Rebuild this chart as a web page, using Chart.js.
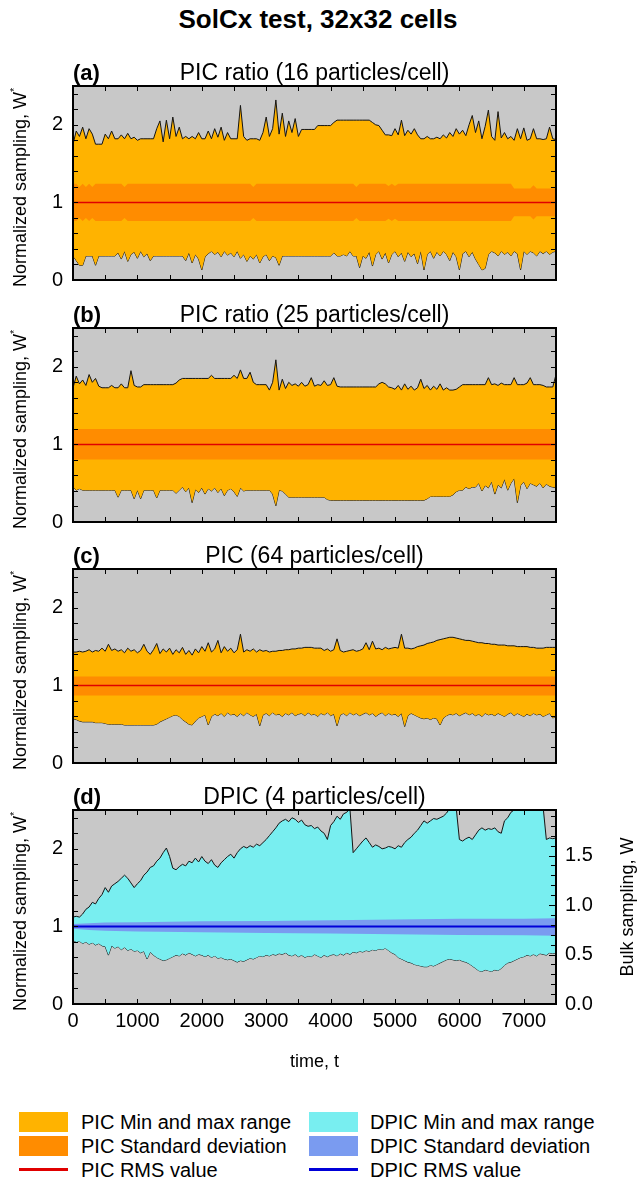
<!DOCTYPE html>
<html>
<head>
<meta charset="utf-8">
<script src="https://cdn.jsdelivr.net/npm/chart.js@4.4.1/dist/chart.umd.min.js"></script>
<style>
  body { margin: 0; background: #fff; }
  #wrap { position: relative; width: 638px; height: 1180px; overflow: hidden; font-family: "Liberation Sans", Arial, Helvetica, sans-serif; color: #000; }
  #wrap canvas { position: absolute; left: 0; }
  .main-title { position: absolute; left: 0; width: 636px; top: 6px; text-align: center; font-weight: bold; font-size: 26px; line-height: 26px; }
  .key-box { position: absolute; width: 49px; height: 20px; }
  .key-line { position: absolute; width: 49px; height: 3px; }
  .key-text { position: absolute; font-size: 20px; line-height: 20px; white-space: nowrap; }
</style>
</head>
<body>
<div id="wrap">
  <div class="main-title">SolCx test, 32x32 cells</div>
  <canvas id="panelA" width="638" height="264" style="top:46px"></canvas>
  <canvas id="panelB" width="638" height="264" style="top:288px"></canvas>
  <canvas id="panelC" width="638" height="264" style="top:529px"></canvas>
  <canvas id="panelD" width="638" height="306" style="top:770px"></canvas>

  <div class="key-box" style="left:19px;top:1112px;background:#ffb300"></div>
  <div class="key-text" style="left:81px;top:1112px">PIC Min and max range</div>
  <div class="key-box" style="left:19px;top:1136px;background:#ff8c00"></div>
  <div class="key-text" style="left:81px;top:1136px">PIC Standard deviation</div>
  <div class="key-line" style="left:19px;top:1168px;background:#e00000"></div>
  <div class="key-text" style="left:81px;top:1160px">PIC RMS value</div>

  <div class="key-box" style="left:309px;top:1112px;background:#78eef0"></div>
  <div class="key-text" style="left:370px;top:1112px">DPIC Min and max range</div>
  <div class="key-box" style="left:309px;top:1136px;background:#7a9bf0"></div>
  <div class="key-text" style="left:370px;top:1136px">DPIC Standard deviation</div>
  <div class="key-line" style="left:309px;top:1168px;background:#0000d8"></div>
  <div class="key-text" style="left:370px;top:1160px">DPIC RMS value</div>
</div>

<script>
// sample grid of the noisy min / max curves (every 50 time units, 0..7500)
const times = Array.from({ length: 151 }, (_, i) => i * 50)

const panelTags = ["(a)", "(b)", "(c)", "(d)"]
const panelTitles = [
  "PIC ratio (16 particles/cell)",
  "PIC ratio (25 particles/cell)",
  "PIC (64 particles/cell)",
  "DPIC (4 particles/cell)"
]
const xTickValues = [0, 1000, 2000, 3000, 4000, 5000, 6000, 7000]
const leftTickValues = [0, 1, 2]
const rightTickValues = [0.0, 0.5, 1.0, 1.5]

// (a) PIC 16 particles/cell
const maxA = [
  1.75, 1.92, 1.85, 1.97, 1.82, 1.95, 1.88, 1.75, 1.75, 1.75,
  1.88, 1.82, 1.92, 1.82, 1.82, 1.87, 1.82, 1.89, 1.82, 1.84,
  1.80, 1.82, 1.82, 1.82, 1.82, 1.82, 1.95, 2.05, 1.78, 2.06,
  1.82, 2.10, 1.85, 1.97, 1.82, 1.85, 1.82, 1.85, 1.82, 1.90,
  1.82, 1.82, 1.92, 1.82, 1.95, 1.84, 1.97, 1.80, 1.90, 1.82,
  1.82, 1.82, 2.25, 1.85, 1.80, 1.82, 1.82, 1.82, 1.80, 1.90,
  2.10, 1.85, 1.95, 2.32, 1.88, 2.15, 1.85, 2.05, 1.90, 2.08,
  1.85, 1.94, 1.94, 1.94, 1.94, 1.94, 1.99, 1.99, 1.99, 1.99,
  1.99, 2.03, 2.06, 2.06, 2.06, 2.06, 2.06, 2.06, 2.06, 2.06,
  2.06, 2.06, 2.06, 2.03, 2.00, 1.99, 1.93, 1.87, 1.87, 1.86,
  1.95, 1.87, 2.06, 1.86, 1.93, 1.88, 1.95, 1.87, 1.82, 1.82,
  1.85, 1.82, 1.82, 1.84, 1.82, 1.87, 1.83, 1.90, 1.85, 1.95,
  1.88, 1.93, 1.86, 2.00, 2.12, 1.90, 2.05, 1.82, 1.98, 2.19,
  1.85, 1.80, 2.17, 1.83, 1.90, 1.82, 1.85, 1.80, 1.95, 1.82,
  1.96, 1.80, 1.82, 1.95, 1.82, 1.82, 1.81, 1.82, 1.97, 1.82,
  1.81
]
const minA = [
  0.31, 0.25, 0.19, 0.19, 0.31, 0.31, 0.31, 0.19, 0.31, 0.31,
  0.31, 0.31, 0.31, 0.31, 0.35, 0.27, 0.37, 0.24, 0.33, 0.36,
  0.28, 0.37, 0.30, 0.34, 0.25, 0.31, 0.31, 0.31, 0.31, 0.31,
  0.31, 0.31, 0.31, 0.31, 0.31, 0.25, 0.35, 0.22, 0.33, 0.27,
  0.13, 0.30, 0.34, 0.37, 0.33, 0.36, 0.30, 0.37, 0.32, 0.35,
  0.30, 0.37, 0.28, 0.33, 0.24, 0.31, 0.27, 0.33, 0.22, 0.30,
  0.33, 0.25, 0.31, 0.29, 0.19, 0.31, 0.31, 0.31, 0.31, 0.31,
  0.31, 0.31, 0.31, 0.31, 0.31, 0.31, 0.31, 0.31, 0.31, 0.31,
  0.31, 0.35, 0.31, 0.31, 0.33, 0.31, 0.37, 0.31, 0.31, 0.16,
  0.31, 0.28, 0.36, 0.18, 0.33, 0.37, 0.27, 0.35, 0.22, 0.33,
  0.37, 0.30, 0.35, 0.24, 0.36, 0.30, 0.34, 0.21, 0.37, 0.13,
  0.33, 0.37, 0.28, 0.36, 0.31, 0.37, 0.33, 0.25, 0.36, 0.30,
  0.13, 0.34, 0.37, 0.30, 0.36, 0.27, 0.20, 0.13, 0.15, 0.33,
  0.37, 0.35, 0.31, 0.37, 0.33, 0.36, 0.31, 0.37, 0.34, 0.13,
  0.37, 0.33, 0.37, 0.35, 0.31, 0.37, 0.34, 0.37, 0.33, 0.36,
  0.37
]
const stdUpA = [
  1.24, 1.24, 1.20, 1.24, 1.20, 1.24, 1.20, 1.24, 1.24, 1.24,
  1.24, 1.24, 1.24, 1.24, 1.24, 1.24, 1.20, 1.24, 1.24, 1.24,
  1.24, 1.24, 1.24, 1.24, 1.24, 1.24, 1.24, 1.24, 1.24, 1.24,
  1.24, 1.24, 1.24, 1.24, 1.24, 1.24, 1.24, 1.24, 1.24, 1.24,
  1.24, 1.24, 1.24, 1.24, 1.24, 1.24, 1.24, 1.24, 1.24, 1.24,
  1.24, 1.24, 1.24, 1.24, 1.24, 1.24, 1.20, 1.24, 1.24, 1.24,
  1.24, 1.24, 1.24, 1.24, 1.24, 1.24, 1.24, 1.24, 1.24, 1.24,
  1.24, 1.24, 1.24, 1.24, 1.24, 1.24, 1.24, 1.24, 1.24, 1.24,
  1.24, 1.24, 1.24, 1.24, 1.24, 1.24, 1.24, 1.24, 1.20, 1.24,
  1.24, 1.24, 1.24, 1.24, 1.24, 1.24, 1.24, 1.24, 1.21, 1.24,
  1.21, 1.24, 1.24, 1.24, 1.24, 1.24, 1.24, 1.24, 1.24, 1.24,
  1.24, 1.24, 1.24, 1.24, 1.24, 1.24, 1.24, 1.24, 1.24, 1.24,
  1.24, 1.24, 1.24, 1.24, 1.24, 1.24, 1.24, 1.24, 1.24, 1.24,
  1.24, 1.24, 1.24, 1.24, 1.24, 1.24, 1.24, 1.18, 1.18, 1.18,
  1.18, 1.18, 1.18, 1.22, 1.18, 1.18, 1.18, 1.18, 1.18, 1.18,
  1.18
]
const stdLowA = [
  0.76, 0.76, 0.80, 0.76, 0.80, 0.76, 0.80, 0.76, 0.76, 0.76,
  0.76, 0.76, 0.76, 0.76, 0.76, 0.76, 0.80, 0.76, 0.76, 0.76,
  0.76, 0.76, 0.76, 0.76, 0.76, 0.76, 0.76, 0.76, 0.76, 0.76,
  0.76, 0.76, 0.76, 0.76, 0.76, 0.76, 0.76, 0.76, 0.76, 0.76,
  0.76, 0.76, 0.76, 0.76, 0.76, 0.76, 0.76, 0.76, 0.76, 0.76,
  0.76, 0.76, 0.76, 0.76, 0.76, 0.76, 0.80, 0.76, 0.76, 0.76,
  0.76, 0.76, 0.76, 0.76, 0.76, 0.76, 0.76, 0.76, 0.76, 0.76,
  0.76, 0.76, 0.76, 0.76, 0.76, 0.76, 0.76, 0.76, 0.76, 0.76,
  0.76, 0.76, 0.76, 0.76, 0.76, 0.76, 0.76, 0.76, 0.80, 0.76,
  0.76, 0.76, 0.76, 0.76, 0.76, 0.76, 0.76, 0.76, 0.79, 0.76,
  0.79, 0.76, 0.76, 0.76, 0.76, 0.76, 0.76, 0.76, 0.76, 0.76,
  0.76, 0.76, 0.76, 0.76, 0.76, 0.76, 0.76, 0.76, 0.76, 0.76,
  0.76, 0.76, 0.76, 0.76, 0.76, 0.76, 0.76, 0.76, 0.76, 0.76,
  0.76, 0.76, 0.76, 0.76, 0.76, 0.76, 0.76, 0.82, 0.82, 0.82,
  0.82, 0.82, 0.82, 0.78, 0.82, 0.82, 0.82, 0.82, 0.82, 0.82,
  0.82
]

// (b) PIC 25 particles/cell
const maxB = [
  1.73, 1.88, 1.78, 1.83, 1.76, 1.90, 1.80, 1.85, 1.75, 1.73,
  1.73, 1.73, 1.76, 1.73, 1.73, 1.78, 1.73, 1.73, 1.95, 1.76,
  1.74, 1.74, 1.77, 1.77, 1.77, 1.77, 1.77, 1.77, 1.77, 1.77,
  1.77, 1.77, 1.79, 1.83, 1.85, 1.85, 1.85, 1.85, 1.85, 1.85,
  1.85, 1.85, 1.85, 1.89, 1.85, 1.85, 1.85, 1.85, 1.85, 1.85,
  1.89, 1.85, 1.96, 1.85, 1.85, 1.93, 1.80, 1.77, 1.77, 1.77,
  1.77, 1.70, 1.80, 2.09, 1.70, 1.84, 1.72, 1.80, 1.76, 1.78,
  1.75, 1.80, 1.75, 1.77, 1.86, 1.75, 1.77, 1.76, 1.82, 1.76,
  1.77, 1.86, 1.75, 1.74, 1.74, 1.74, 1.74, 1.74, 1.74, 1.74,
  1.74, 1.74, 1.74, 1.74, 1.74, 1.78, 1.80, 1.78, 1.74, 1.73,
  1.71, 1.76, 1.70, 1.78, 1.71, 1.75, 1.70, 1.73, 1.84, 1.72,
  1.76, 1.70, 1.75, 1.71, 1.78, 1.70, 1.73, 1.70, 1.70, 1.71,
  1.74, 1.77, 1.77, 1.77, 1.77, 1.77, 1.77, 1.77, 1.77, 1.86,
  1.77, 1.78, 1.76, 1.79, 1.77, 1.77, 1.77, 1.86, 1.77, 1.77,
  1.77, 1.79, 1.86, 1.77, 1.77, 1.77, 1.76, 1.74, 1.74, 1.74,
  1.90
]
const minB = [
  0.45, 0.41, 0.43, 0.41, 0.41, 0.41, 0.41, 0.41, 0.41, 0.41,
  0.41, 0.41, 0.41, 0.41, 0.32, 0.41, 0.41, 0.41, 0.41, 0.30,
  0.41, 0.30, 0.41, 0.41, 0.41, 0.41, 0.31, 0.41, 0.41, 0.41,
  0.41, 0.41, 0.37, 0.41, 0.45, 0.39, 0.44, 0.25, 0.42, 0.38,
  0.44, 0.36, 0.43, 0.40, 0.44, 0.38, 0.43, 0.34, 0.41, 0.43,
  0.39, 0.33, 0.44, 0.40, 0.41, 0.41, 0.41, 0.41, 0.41, 0.41,
  0.41, 0.41, 0.36, 0.21, 0.41, 0.40, 0.36, 0.32, 0.32, 0.32,
  0.32, 0.32, 0.32, 0.32, 0.32, 0.32, 0.32, 0.32, 0.32, 0.29,
  0.28, 0.28, 0.28, 0.28, 0.28, 0.28, 0.28, 0.28, 0.28, 0.28,
  0.28, 0.28, 0.28, 0.28, 0.28, 0.28, 0.28, 0.28, 0.28, 0.28,
  0.28, 0.28, 0.28, 0.28, 0.28, 0.28, 0.28, 0.28, 0.28, 0.28,
  0.30, 0.33, 0.33, 0.33, 0.33, 0.33, 0.33, 0.33, 0.35, 0.39,
  0.41, 0.41, 0.45, 0.43, 0.45, 0.45, 0.50, 0.40, 0.47, 0.44,
  0.52, 0.36, 0.48, 0.44, 0.55, 0.41, 0.50, 0.56, 0.25, 0.47,
  0.52, 0.43, 0.50, 0.48, 0.46, 0.50, 0.44, 0.49, 0.46, 0.45,
  0.44
]
const stdTimesB = [0, 7500]
const stdUpB = [1.20, 1.20]
const stdLowB = [0.805, 0.805]

// (c) PIC 64 particles/cell
const maxC = [
  1.43, 1.43, 1.44, 1.43, 1.44, 1.46, 1.43, 1.45, 1.44, 1.48,
  1.44, 1.53, 1.45, 1.47, 1.44, 1.46, 1.42, 1.48, 1.44, 1.46,
  1.42, 1.45, 1.53, 1.44, 1.40, 1.46, 1.54, 1.41, 1.47, 1.43,
  1.48, 1.40, 1.46, 1.42, 1.49, 1.40, 1.45, 1.39, 1.47, 1.42,
  1.50, 1.44, 1.55, 1.43, 1.47, 1.58, 1.42, 1.50, 1.44, 1.48,
  1.42, 1.46, 1.66, 1.43, 1.46, 1.44, 1.47, 1.43, 1.46, 1.44,
  1.45, 1.43, 1.44, 1.44, 1.45, 1.45, 1.46, 1.46, 1.47, 1.47,
  1.48, 1.48, 1.49, 1.49, 1.49, 1.48, 1.48, 1.48, 1.45, 1.47,
  1.44, 1.46, 1.60, 1.45, 1.43, 1.44, 1.45, 1.46, 1.44, 1.45,
  1.47, 1.55, 1.46, 1.57, 1.47, 1.48, 1.46, 1.49, 1.47, 1.48,
  1.49, 1.48, 1.66, 1.48, 1.48, 1.47, 1.48, 1.50, 1.51, 1.52,
  1.54, 1.55, 1.56, 1.58, 1.59, 1.60, 1.61, 1.62, 1.62, 1.61,
  1.60, 1.59, 1.58, 1.58, 1.57, 1.56, 1.55, 1.55, 1.54, 1.54,
  1.53, 1.53, 1.52, 1.52, 1.52, 1.51, 1.51, 1.51, 1.50, 1.50,
  1.50, 1.50, 1.49, 1.49, 1.48, 1.48, 1.48, 1.49, 1.49, 1.49,
  1.49
]
const minC = [
  0.57, 0.56, 0.54, 0.53, 0.53, 0.53, 0.53, 0.52, 0.52, 0.52,
  0.51, 0.50, 0.50, 0.50, 0.50, 0.50, 0.49, 0.49, 0.49, 0.49,
  0.49, 0.49, 0.49, 0.49, 0.49, 0.49, 0.50, 0.53, 0.55, 0.57,
  0.59, 0.61, 0.62, 0.60, 0.56, 0.53, 0.50, 0.49, 0.54, 0.58,
  0.60, 0.62, 0.49, 0.60, 0.63, 0.61, 0.64, 0.60, 0.65, 0.62,
  0.63, 0.60, 0.64, 0.61, 0.65, 0.62, 0.60, 0.63, 0.48, 0.62,
  0.64, 0.61, 0.65, 0.62, 0.63, 0.60, 0.64, 0.62, 0.65, 0.61,
  0.63, 0.64, 0.61, 0.65, 0.62, 0.63, 0.60, 0.64, 0.62, 0.65,
  0.61, 0.63, 0.48, 0.62, 0.64, 0.61, 0.65, 0.62, 0.64, 0.61,
  0.63, 0.65, 0.62, 0.64, 0.60, 0.63, 0.65, 0.61, 0.64, 0.62,
  0.63, 0.60, 0.64, 0.47, 0.61, 0.64, 0.62, 0.60, 0.58, 0.57,
  0.58, 0.56, 0.58, 0.57, 0.49, 0.58, 0.61, 0.63, 0.62, 0.64,
  0.61, 0.63, 0.65, 0.62, 0.64, 0.61, 0.63, 0.60, 0.64, 0.62,
  0.63, 0.61, 0.64, 0.62, 0.60, 0.63, 0.65, 0.61, 0.64, 0.62,
  0.60, 0.63, 0.61, 0.64, 0.62, 0.63, 0.60, 0.62, 0.64, 0.58,
  0.60
]
const stdTimesC = [0, 7500]
const stdUpC = [1.115, 1.115]
const stdLowC = [0.87, 0.87]

// (d) DPIC 4 particles/cell
const maxD = [
  1.12, 1.13, 1.12, 1.16, 1.22, 1.25, 1.31, 1.29, 1.36, 1.41,
  1.50, 1.44, 1.52, 1.55, 1.58, 1.62, 1.66, 1.62, 1.56, 1.50,
  1.55, 1.59, 1.66, 1.70, 1.76, 1.78, 1.84, 1.88, 1.95, 2.01,
  1.90, 1.75, 1.73, 1.77, 1.80, 1.78, 1.84, 1.82, 1.88, 1.83,
  1.90, 1.84, 1.81, 1.86, 1.79, 1.76, 1.82, 1.86, 1.90, 1.93,
  1.88, 1.95, 2.00, 2.03, 2.01, 2.04, 2.02, 2.06, 2.04, 2.08,
  2.12, 2.17, 2.22, 2.27, 2.33, 2.36, 2.38, 2.35, 2.40, 2.38,
  2.34, 2.37, 2.31, 2.29, 2.30, 2.26, 2.28, 2.23, 2.20, 2.12,
  2.30, 2.35, 2.42, 2.38, 2.45, 2.47, 2.52, 1.95, 2.00, 2.05,
  2.10, 2.14, 2.08, 2.02, 2.05, 2.03, 2.00, 2.01, 2.03, 2.02,
  2.00, 2.04, 2.02, 2.08, 2.12, 2.15, 2.20, 2.24, 2.30, 2.36,
  2.33, 2.36, 2.39, 2.38, 2.40, 2.42, 2.46, 2.52, 2.54, 2.53,
  2.12, 2.10, 2.13, 2.15, 2.12, 2.18, 2.24, 2.27, 2.24, 2.26,
  2.25, 2.27, 2.22, 2.20, 2.36, 2.40, 2.47, 2.50, 2.53, 2.52,
  2.53, 2.54, 2.52, 2.53, 2.54, 2.52, 2.54, 2.12, 2.14, 2.13,
  2.14
]
const minD = [
  0.82, 0.80, 0.81, 0.78, 0.80, 0.77, 0.79, 0.76, 0.78, 0.75,
  0.74, 0.63, 0.75, 0.72, 0.74, 0.70, 0.73, 0.69, 0.71, 0.68,
  0.69, 0.66, 0.68, 0.58, 0.67, 0.63, 0.60, 0.58, 0.56, 0.57,
  0.59, 0.61, 0.63, 0.62, 0.65, 0.63, 0.66, 0.64, 0.62, 0.64,
  0.63, 0.61, 0.63, 0.60, 0.62, 0.59, 0.60, 0.58, 0.57, 0.58,
  0.56, 0.54, 0.56, 0.55, 0.57, 0.59, 0.58, 0.60, 0.62, 0.61,
  0.63, 0.62, 0.64, 0.63, 0.65, 0.64, 0.66, 0.63, 0.62, 0.64,
  0.61, 0.63, 0.60, 0.62, 0.61, 0.64, 0.62, 0.60, 0.63, 0.61,
  0.63, 0.64, 0.62, 0.65, 0.63, 0.66, 0.64, 0.67, 0.66, 0.68,
  0.67, 0.69, 0.68, 0.70, 0.69, 0.71, 0.70, 0.72, 0.69, 0.66,
  0.64, 0.60, 0.58, 0.56, 0.54, 0.53, 0.51, 0.50, 0.49, 0.48,
  0.48, 0.50, 0.49, 0.51, 0.53, 0.55, 0.57, 0.58, 0.57, 0.56,
  0.57, 0.55, 0.54, 0.52, 0.49, 0.46, 0.43, 0.42, 0.44, 0.43,
  0.42, 0.44, 0.43, 0.46, 0.50, 0.53, 0.54, 0.56, 0.58, 0.60,
  0.61, 0.63, 0.62, 0.64, 0.62, 0.65, 0.64, 0.63, 0.66, 0.65,
  0.66
]
const stdTimesD = [0, 250, 500, 1000, 2000, 3000, 4000, 5000, 6000, 7000, 7500]
const stdUpD = [1.03, 1.04, 1.05, 1.055, 1.065, 1.07, 1.08, 1.09, 1.10, 1.10, 1.105]
const stdLowD = [0.97, 0.955, 0.945, 0.935, 0.925, 0.915, 0.91, 0.90, 0.89, 0.885, 0.88]

const rmsTimes = [0, 7500]
const rmsValues = [1, 1]

// bulk sampling axis (right side of panel d) is the normalized axis scaled
const bulkAxisMax = 1.96

Chart.defaults.font.family = "'Liberation Sans', Arial, Helvetica, sans-serif"
Chart.defaults.color = "#000"

function toPoints(ts, vs){
  return ts.map((t, i) => ({ x: t, y: vs[i] }))
}

const panelDecor = {
  id: "panelDecor",
  beforeDraw(chart){
    const { ctx, chartArea: a } = chart
    ctx.save()
    ctx.fillStyle = "#c8c8c8"
    ctx.fillRect(a.left, a.top, a.right - a.left, a.bottom - a.top)
    ctx.restore()
  },
  afterDraw(chart, args, opts){
    const { ctx, chartArea: a, scales } = chart
    ctx.save()
    ctx.strokeStyle = "#000"
    ctx.lineWidth = 1

    // inward tick marks on all four sides
    ctx.beginPath()
    for(let i = 0; i <= 15; i++){
      const px = Math.round(scales.x.getPixelForValue(i * 500)) + 0.5
      ctx.moveTo(px, a.bottom); ctx.lineTo(px, a.bottom - 5)
      ctx.moveTo(px, a.top); ctx.lineTo(px, a.top + 5)
    }
    for(let i = 0; i <= 12; i++){
      const py = Math.round(scales.y.getPixelForValue(i * 0.2)) + 0.5
      ctx.moveTo(a.left, py); ctx.lineTo(a.left + 5, py)
      if(!scales.y2){
        ctx.moveTo(a.right, py); ctx.lineTo(a.right - 5, py)
      }
    }
    if(scales.y2){
      for(let i = 0; i <= 19; i++){
        const py = Math.round(scales.y2.getPixelForValue(i * 0.1)) + 0.5
        const len = i % 5 === 0 ? 7 : 5
        ctx.moveTo(a.right, py); ctx.lineTo(a.right - len, py)
      }
    }
    ctx.stroke()

    ctx.lineWidth = 2
    ctx.strokeRect(a.left, a.top, a.right - a.left, a.bottom - a.top)

    // panel tag and title
    ctx.fillStyle = "#000"
    ctx.textBaseline = "alphabetic"
    ctx.font = "bold 22px 'Liberation Sans', Arial, sans-serif"
    ctx.textAlign = "left"
    ctx.fillText(opts.tag, a.left, a.top - 6)
    ctx.font = "23px 'Liberation Sans', Arial, sans-serif"
    ctx.textAlign = "center"
    ctx.fillText(opts.title, (a.left + a.right) / 2, a.top - 6)

    // left axis title with superscript star
    const cy = (a.top + a.bottom) / 2 + 4
    ctx.translate(21, cy)
    ctx.rotate(-Math.PI / 2)
    ctx.textBaseline = "middle"
    ctx.textAlign = "left"
    ctx.font = "18px 'Liberation Sans', Arial, sans-serif"
    const main = "Normalized sampling, W"
    const w = ctx.measureText(main).width
    ctx.fillText(main, -(w + 5) / 2, 0)
    ctx.font = "11px 'Liberation Sans', Arial, sans-serif"
    ctx.fillText("*", -(w + 5) / 2 + w, -6)
    ctx.restore()

    if(opts.rightTitle){
      ctx.save()
      ctx.translate(628, (a.top + a.bottom) / 2)
      ctx.rotate(-Math.PI / 2)
      ctx.textBaseline = "middle"
      ctx.textAlign = "center"
      ctx.fillStyle = "#000"
      ctx.font = "18px 'Liberation Sans', Arial, sans-serif"
      ctx.fillText(opts.rightTitle, 0, 0)
      ctx.restore()
    }
  }
}

function buildPanel(canvasId, p){
  const isBottom = !!p.bottom
  const scales = {
    x: {
      type: "linear",
      min: 0,
      max: 7500,
      display: isBottom,
      grid: { display: false, drawTicks: false },
      border: { display: false },
      afterBuildTicks: (s) => { s.ticks = xTickValues.map((v) => ({ value: v })) },
      ticks: {
        padding: 5,
        autoSkip: false,
        maxRotation: 0,
        font: { size: 20 },
        callback: (v) => String(v)
      },
      title: {
        display: isBottom,
        text: "time, t",
        font: { size: 18 },
        padding: { top: 0, bottom: 3 }
      },
      afterFit: (s) => { s.height = isBottom ? 72 : 0 }
    },
    y: {
      type: "linear",
      position: "left",
      min: 0,
      max: 2.5,
      grid: { display: false, drawTicks: false },
      border: { display: false },
      afterBuildTicks: (s) => { s.ticks = leftTickValues.map((v) => ({ value: v })) },
      ticks: {
        padding: 10,
        autoSkip: false,
        font: { size: 20 },
        callback: (v) => String(v)
      },
      afterFit: (s) => { s.width = 73 }
    }
  }

  if(isBottom){
    scales.y2 = {
      type: "linear",
      position: "right",
      min: 0,
      max: bulkAxisMax,
      grid: { display: false, drawTicks: false },
      border: { display: false },
      afterBuildTicks: (s) => { s.ticks = rightTickValues.map((v) => ({ value: v })) },
      ticks: {
        padding: 9,
        autoSkip: false,
        font: { size: 20 },
        callback: (v) => Number(v).toFixed(1)
      },
      afterFit: (s) => { s.width = 82 }
    }
  }

  const line = { pointRadius: 0, tension: 0 }

  return new Chart(document.getElementById(canvasId), {
    type: "line",
    data: {
      datasets: [
        { ...line, label: "RMS", data: toPoints(rmsTimes, rmsValues), borderColor: p.rmsColor, borderWidth: p.rmsWidth, fill: false },
        { ...line, label: "Std up", data: toPoints(p.stdTimes, p.stdUp), borderColor: "rgba(0,0,0,0)", borderWidth: 1, backgroundColor: p.stdColor, fill: "+1" },
        { ...line, label: "Std low", data: toPoints(p.stdTimes, p.stdLow), borderColor: "rgba(0,0,0,0)", borderWidth: 1, fill: false },
        { ...line, label: "Max", data: toPoints(times, p.max), borderColor: "#141414", borderWidth: 1, backgroundColor: p.rangeColor, fill: "+1" },
        { ...line, label: "Min", data: toPoints(times, p.min), borderColor: "#141414", borderWidth: 1, fill: false }
      ]
    },
    options: {
      responsive: false,
      animation: false,
      devicePixelRatio: 1,
      layout: { padding: { top: 40, bottom: isBottom ? 0 : 30, left: 0, right: isBottom ? 0 : 82 } },
      scales,
      plugins: {
        legend: { display: false },
        tooltip: { enabled: false },
        panelDecor: { tag: p.tag, title: p.title, rightTitle: isBottom ? "Bulk sampling, W" : null }
      }
    },
    plugins: [panelDecor]
  })
}

const picColors = { rangeColor: "#ffb300", stdColor: "#ff8c00", rmsColor: "#e00000", rmsWidth: 1.5 }
const dpicColors = { rangeColor: "#78eef0", stdColor: "#7a9bf0", rmsColor: "#0000d8", rmsWidth: 2 }

buildPanel("panelA", { ...picColors, tag: panelTags[0], title: panelTitles[0], max: maxA, min: minA, stdTimes: times, stdUp: stdUpA, stdLow: stdLowA })
buildPanel("panelB", { ...picColors, tag: panelTags[1], title: panelTitles[1], max: maxB, min: minB, stdTimes: stdTimesB, stdUp: stdUpB, stdLow: stdLowB })
buildPanel("panelC", { ...picColors, tag: panelTags[2], title: panelTitles[2], max: maxC, min: minC, stdTimes: stdTimesC, stdUp: stdUpC, stdLow: stdLowC })
buildPanel("panelD", { ...dpicColors, bottom: true, tag: panelTags[3], title: panelTitles[3], max: maxD, min: minD, stdTimes: stdTimesD, stdUp: stdUpD, stdLow: stdLowD })
</script>
</body>
</html>
